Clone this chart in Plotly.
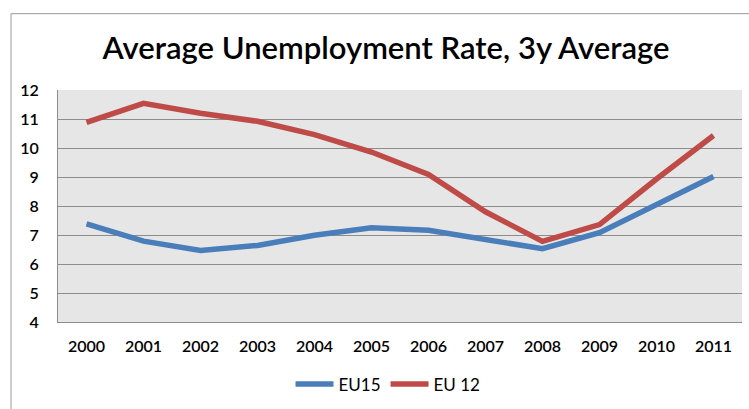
import plotly.graph_objects as go

years = [str(y) for y in range(2000, 2012)]
eu15 = [7.38, 6.79, 6.47, 6.64, 6.99, 7.25, 7.16, 6.84, 6.53, 7.08, 8.03, 9.02]
eu12 = [10.88, 11.54, 11.2, 10.92, 10.46, 9.86, 9.09, 7.8, 6.78, 7.36, 8.93, 10.43]

W, H = 749, 409
L, R, T, B = 58, 7, 90, 85
pw, ph = W - L - R, H - T - B

fig = go.Figure()
fig.add_trace(go.Scatter(x=years, y=eu15, name="EU15", mode="lines",
                         line=dict(color="#4A7EBB", width=5.5)))
fig.add_trace(go.Scatter(x=years, y=eu12, name="EU 12", mode="lines",
                         line=dict(color="#BE4B48", width=5.5)))

# outer chart frame (left and top edges)
fx0 = (11 - L) / pw
fy1 = (H - B - 13) / ph
fig.add_shape(type="line", xref="paper", yref="paper", x0=fx0, x1=fx0, y0=-1, y1=fy1,
              line=dict(color="#9a9a9a", width=1))
fig.add_shape(type="line", xref="paper", yref="paper", x0=fx0, x1=1.2, y0=fy1, y1=fy1,
              line=dict(color="#9a9a9a", width=1))

font_family = "Lato, 'Open Sans', sans-serif"
fig.update_layout(
    width=W, height=H,
    margin=dict(l=L, r=R, t=T, b=B),
    paper_bgcolor="white",
    plot_bgcolor="#e6e6e6",
    font=dict(family=font_family, color="#000000"),
    title=dict(text="Average Unemployment Rate, 3y Average", x=386 / W, xanchor="center",
               xref="container", y=1 - 48 / H, yanchor="middle", yref="container",
               font=dict(size=31, family=font_family, color="#000000", weight=600)),
    xaxis=dict(type="category", range=[-0.5, 11.5], showgrid=False, showline=True,
               linecolor="#8c8c8c", linewidth=1, ticks="", ticklabelstandoff=10,
               tickfont=dict(size=16, family=font_family, color="#000000", weight=600)),
    yaxis=dict(range=[4, 12], dtick=1, showgrid=True, gridcolor="#8c8c8c", gridwidth=1,
               showline=True, linecolor="#8c8c8c", linewidth=1, zeroline=False, ticks="",
               ticklabelstandoff=15,
               tickfont=dict(size=16, family=font_family, color="#000000", weight=600)),
    legend=dict(orientation="h", x=(388 - L) / pw, xanchor="center",
                y=(H - B - 387) / ph, yanchor="middle",
                font=dict(size=17, family=font_family, color="#000000"),
                itemwidth=38, bgcolor="rgba(0,0,0,0)"),
    showlegend=True,
)

fig.write_html("out.html")
